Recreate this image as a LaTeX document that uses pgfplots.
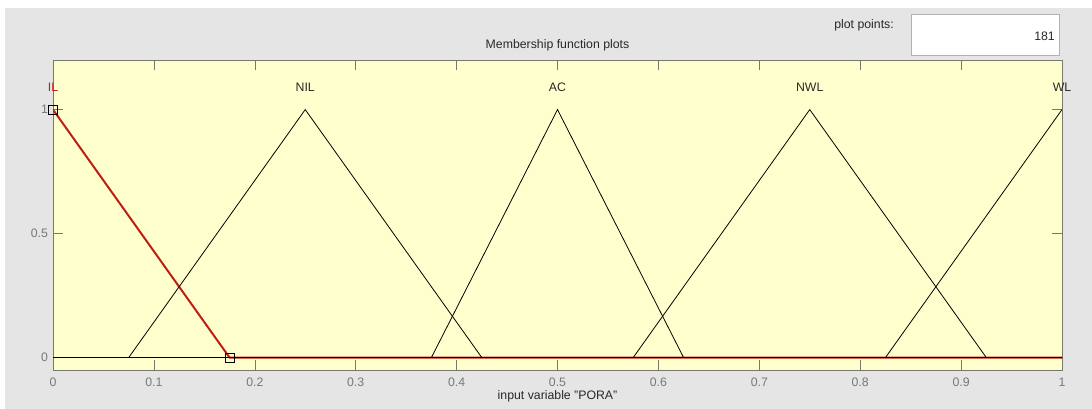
\documentclass[border=0pt]{standalone}
\usepackage{pgfplots}
\pgfplotsset{compat=1.18}
\usepackage{fontspec}
\setmainfont{Liberation Sans}

\definecolor{figbg}{RGB}{229,229,229}
\definecolor{axbg}{RGB}{255,255,206}
\definecolor{tickgray}{RGB}{120,120,120}
\definecolor{framegray}{RGB}{120,120,110}
\definecolor{labelgray}{RGB}{40,40,40}
\definecolor{mfred}{RGB}{190,30,20}

\newcommand{\uifont}{\fontsize{12.3}{14}\selectfont}

\begin{document}
\begin{tikzpicture}
% figure window background
\fill[white] (0pt,0pt) rectangle (1092pt,409pt);
\fill[figbg] (5pt,0pt) rectangle (1092pt,401pt);

% plot points field
\node[anchor=east, font=\uifont, text=labelgray, inner sep=0pt] at (894pt,384pt) {plot points:};
\filldraw[fill=white, draw=gray!60] (911pt,354pt) rectangle (1059pt,395pt);
\node[anchor=east, font=\uifont, text=labelgray, inner sep=0pt] at (1055pt,373pt) {181};

% panel title and axis caption
\node[font=\uifont, text=labelgray, anchor=center] at (557.5pt,364pt) {Membership function plots};
\node[font=\uifont, text=labelgray, anchor=center] at (557.5pt,13pt) {input variable "PORA"};

\begin{axis}[
  at={(53pt,39pt)}, anchor=south west,
  scale only axis, width=1009pt, height=310pt,
  xmin=0, xmax=1, ymin=-0.05, ymax=1.2,
  axis background/.style={fill=axbg},
  axis line style={framegray, line width=0.8pt},
  xtick={0,0.1,...,1.0},
  xticklabels={0,0.1,0.2,0.3,0.4,0.5,0.6,0.7,0.8,0.9,1},
  ytick={0,0.5,1},
  yticklabels={0,0.5,1},
  tick align=inside,
  major tick length=10pt,
  tick style={framegray, line width=0.6pt},
  ticklabel style={font=\uifont, text=tickgray},
  /pgf/number format/assume math mode=true,
  xticklabel style={anchor=center, yshift=-12pt},
  yticklabel style={anchor=east, xshift=-1.5pt},
  clip mode=individual,
]
% selected membership function IL
\addplot[mfred, line width=2pt] coordinates {(0,1) (0.175,0) (1,0)};
% remaining membership functions
\addplot[black, line width=0.8pt] coordinates {(0,0) (0.075,0) (0.25,1) (0.425,0) (1,0)};
\addplot[black, line width=0.8pt] coordinates {(0,0) (0.375,0) (0.5,1) (0.625,0) (1,0)};
\addplot[black, line width=0.8pt] coordinates {(0,0) (0.575,0) (0.75,1) (0.925,0) (1,0)};
\addplot[black, line width=0.8pt] coordinates {(0,0) (0.825,0) (1,1)};
% handles on the selected function
\addplot[only marks, mark=square, mark size=4.5pt, mark options={draw=black, fill=none, line width=0.7pt}] coordinates {(0,1) (0.175,0)};

% membership function names
\node[font=\uifont, text=mfred] at (axis cs:0,1.09) {IL};
\node[font=\uifont, text=labelgray] at (axis cs:0.25,1.09) {NIL};
\node[font=\uifont, text=labelgray] at (axis cs:0.5,1.09) {AC};
\node[font=\uifont, text=labelgray] at (axis cs:0.75,1.09) {NWL};
\node[font=\uifont, text=labelgray] at (axis cs:1,1.09) {WL};
\end{axis}
\end{tikzpicture}
\end{document}
